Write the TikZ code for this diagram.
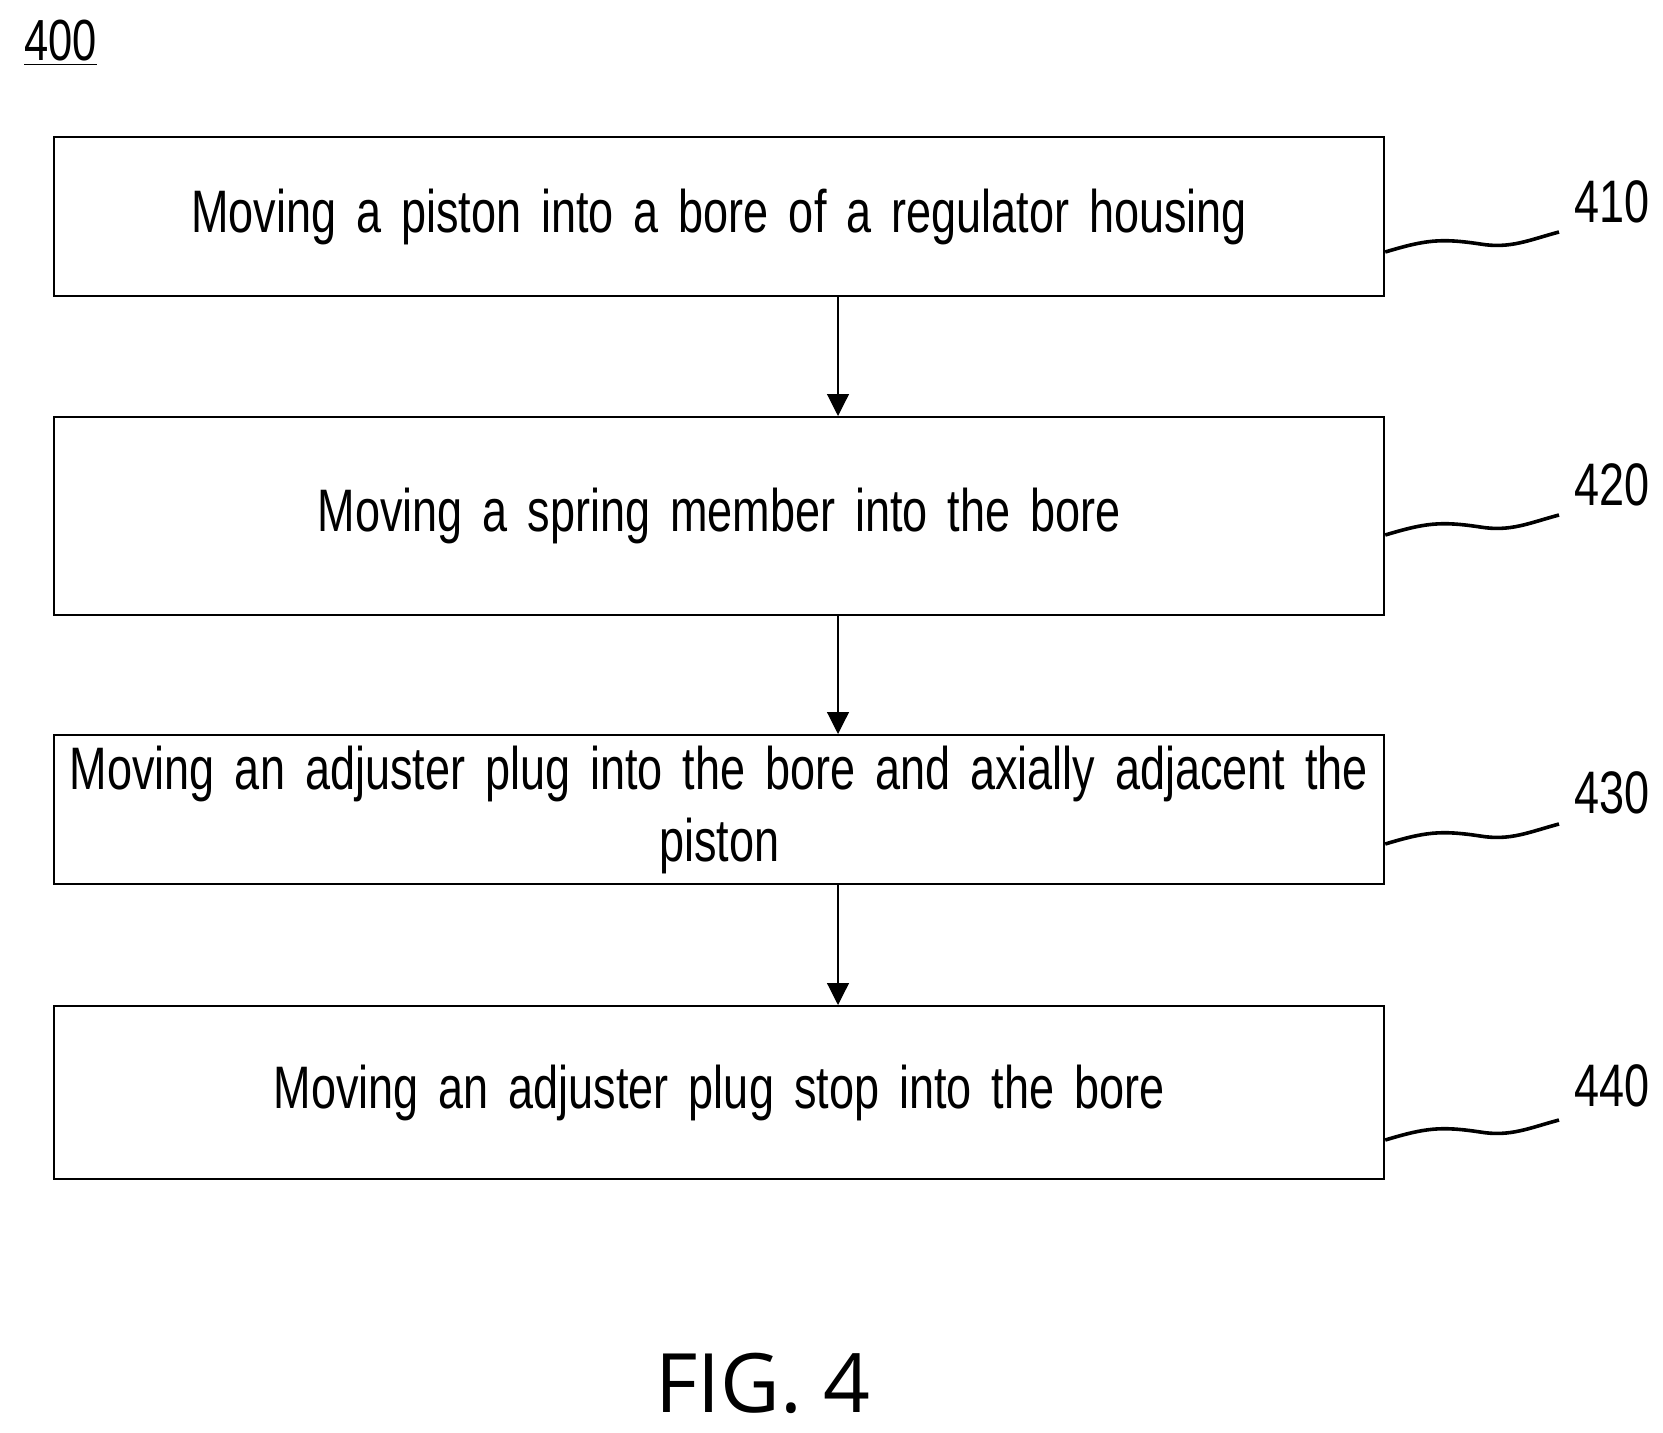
\documentclass[tikz,border=0pt]{standalone}
\usepackage{fontspec}
\setmainfont{Liberation Sans}[FakeStretch=0.75]
\newfontfamily\figfont{Open Sans}
\usetikzlibrary{arrows.meta}
\begin{document}
\begin{tikzpicture}[x=0.5pt,y=-0.5pt,
  box/.style={draw,line width=1.1pt,inner sep=0pt,anchor=north west,font=\fontsize{30}{36}\selectfont,align=center,text width=665pt},
  arr/.style={line width=0.6pt,-{Triangle[length=11pt,width=11pt]}},
  sq/.style={line width=1.8pt},
  lab/.style={font=\fontsize{30}{36}\selectfont,anchor=center}]
\useasboundingbox (0,0) rectangle (1663,1433);
\node[anchor=west,font=\fontsize{29}{36}\selectfont] (n400) at (17,43) {\underline{400}};
\node[box,minimum width=665pt,minimum height=79.5pt] (b1) at (53,136) {Moving a piston into a bore of a regulator housing};
\node[box,minimum width=665pt,minimum height=99pt] (b2) at (53,416) {Moving a spring member into the bore};
\node[box,minimum width=665pt,minimum height=74.5pt] (b3) at (53,734) {Moving an adjuster plug into the bore and axially adjacent the\\piston};
\node[box,minimum width=665pt,minimum height=86.5pt] (b4) at (53,1005) {Moving an adjuster plug stop into the bore};
\draw[arr] (b1.south -| 838,0) -- (b2.north -| 838,0);
\draw[arr] (b2.south -| 838,0) -- (b3.north -| 838,0);
\draw[arr] (b3.south -| 838,0) -- (b4.north -| 838,0);
\foreach \b/\y/\t in {b1/202/410,b2/485/420,b3/793/430,b4/1086/440}{
  \node[lab] (l\t) at (1612,\y) {\t};
}
\foreach \b/\y in {b1/252,b2/535,b3/844,b4/1140}{
  \coordinate (s\b) at (\b.east |- 0,\y);
  \coordinate (e\b) at (1559,\y-20);
  \draw[sq] (s\b) .. controls +(40,-12) and +(-40,-6) .. ++(95,-8) .. controls +(30,5) and +(-30,8) .. (e\b);
}
\node[font=\figfont\fontsize{41}{46}\selectfont] (fig) at (763,1383) {FIG. 4};
\end{tikzpicture}
\end{document}
